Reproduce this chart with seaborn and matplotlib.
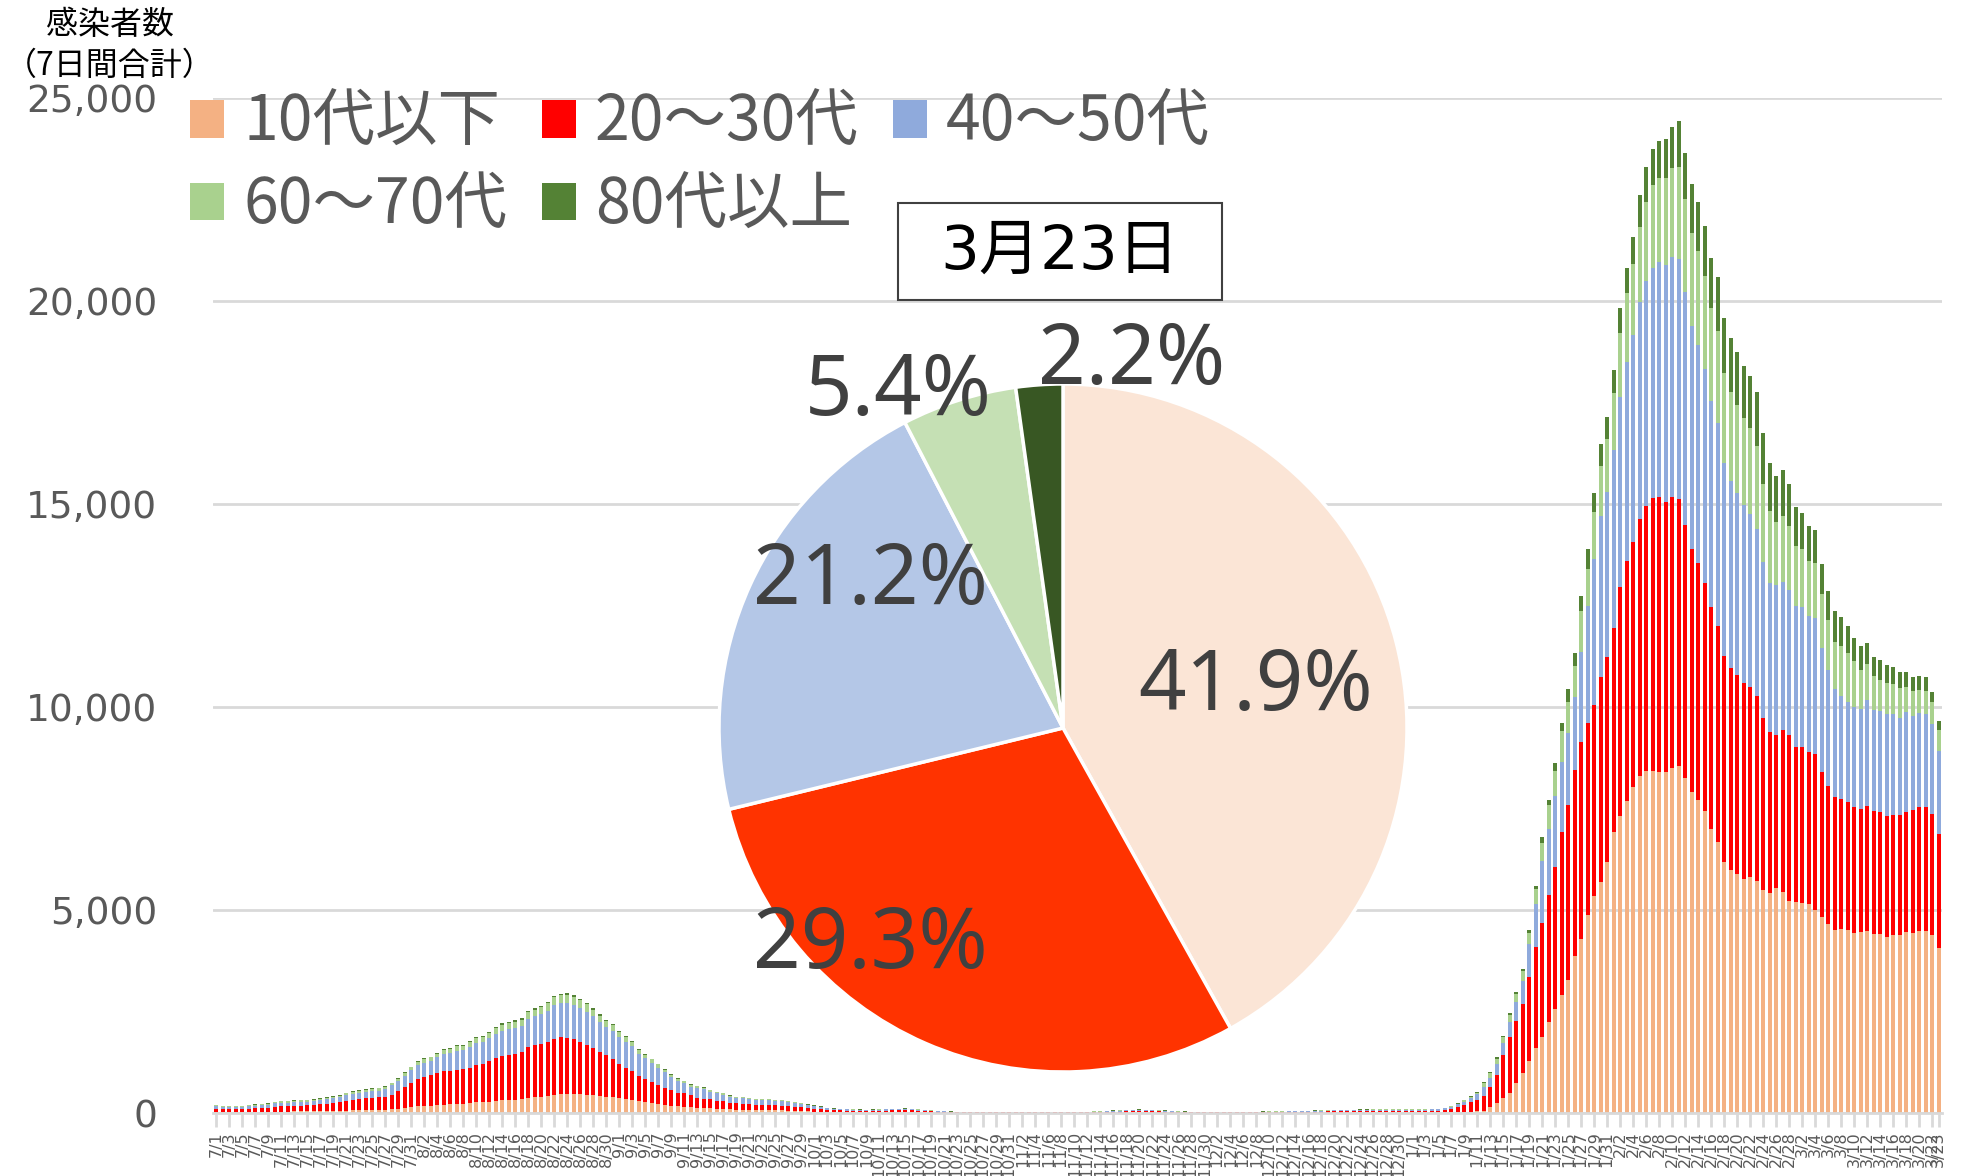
import numpy as np
import pandas as pd
import seaborn as sns
import matplotlib.pyplot as plt
from matplotlib.patches import Patch, Rectangle

# 7日間合計の感染者数 (2021/7/1 - 2022/3/23, daily)
dates = pd.date_range("2021-07-01", "2022-03-23", freq="D")

age_10 = [
    25, 22, 21, 22, 22, 24, 26, 27, 29, 33,
    35, 35, 37, 38, 38, 40, 43, 46, 50, 53,
    60, 63, 66, 70, 72, 75, 80, 92, 105, 125,
    142, 162, 172, 180, 195, 205, 215, 225, 232, 245,
    262, 265, 282, 300, 315, 322, 330, 340, 370, 385,
    400, 420, 450, 465, 470, 468, 460, 450, 435, 415,
    400, 385, 360, 340, 320, 290, 270, 250, 228, 205,
    182, 165, 155, 138, 130, 125, 115, 105, 99, 88,
    81, 80, 76, 71, 70, 70, 66, 64, 60, 52,
    46, 40, 34, 30, 24, 21, 19, 18, 17, 16,
    15, 16, 17, 18, 19, 20, 21, 20, 18, 15,
    12, 9, 8, 7, 5, 5, 5, 4, 4, 4,
    4, 4, 4, 4, 5, 5, 5, 4, 4, 4,
    4, 5, 5, 5, 5, 6, 7, 8, 9, 11,
    12, 13, 13, 13, 12, 11, 9, 8, 6, 6,
    5, 5, 5, 5, 5, 5, 5, 5, 5, 5,
    5, 6, 6, 6, 7, 7, 8, 8, 9, 9,
    10, 10, 11, 12, 12, 13, 13, 13, 14, 14,
    14, 14, 14, 15, 15, 15, 15, 16, 16, 14,
    15, 18, 24, 30, 38, 50, 146, 251, 365, 497,
    743, 981, 1271, 1597, 1878, 2230, 2564, 2916, 3277, 3857,
    4280, 4886, 5351, 5684, 6184, 6913, 7325, 7676, 8027, 8290,
    8421, 8421, 8404, 8404, 8509, 8553, 8246, 7895, 7702, 7430,
    6992, 6667, 6176, 5983, 5877, 5772, 5807, 5702, 5483, 5421,
    5544, 5439, 5220, 5202, 5176, 5150, 5000, 4825, 4649, 4518,
    4544, 4518, 4430, 4456, 4492, 4404, 4404, 4342, 4386, 4386,
    4456, 4430, 4474, 4474, 4386, 4053,
]
age_20_30 = [
    80, 74, 70, 74, 75, 82, 90, 95, 102, 122,
    130, 132, 140, 145, 147, 155, 168, 182, 200, 213,
    245, 262, 275, 290, 300, 308, 323, 352, 429, 516,
    597, 676, 715, 748, 791, 822, 828, 834, 852, 864,
    929, 942, 999, 1055, 1089, 1107, 1123, 1163, 1256, 1290,
    1300, 1337, 1381, 1399, 1386, 1347, 1281, 1225, 1175, 1096,
    1029, 945, 855, 777, 715, 613, 568, 514, 462, 419,
    377, 336, 330, 306, 248, 228, 222, 199, 189, 167,
    157, 150, 146, 135, 127, 127, 123, 117, 112, 102,
    95, 84, 76, 66, 53, 46, 43, 40, 37, 35,
    34, 36, 38, 41, 43, 45, 46, 44, 39, 33,
    26, 21, 17, 15, 12, 11, 10, 10, 10, 10,
    9, 9, 10, 10, 10, 11, 10, 10, 10, 10,
    10, 10, 11, 12, 13, 14, 16, 18, 22, 25,
    28, 30, 31, 30, 29, 26, 22, 17, 15, 13,
    12, 12, 11, 11, 10, 10, 11, 11, 12, 12,
    13, 13, 14, 15, 15, 16, 20, 22, 23, 25,
    26, 28, 30, 31, 33, 34, 35, 36, 37, 37,
    38, 38, 38, 39, 39, 40, 41, 42, 44, 69,
    94, 134, 178, 230, 290, 377, 501, 686, 1056, 1364,
    1514, 1698, 2085, 2489, 2800, 3150, 3500, 4000, 4300, 4600,
    4864, 4714, 4693, 5053, 5044, 5035, 5638, 5920, 6045, 6348,
    6529, 6735, 6776, 6637, 6655, 6570, 6236, 5996, 5836, 5632,
    5464, 5333, 5070, 4982, 4913, 4825, 4693, 4579, 4254, 3965,
    3772, 3991, 4096, 3825, 3851, 3745, 3842, 3570, 3404, 3263,
    3202, 3149, 3114, 3027, 3070, 3026, 3000, 2983, 2965, 2965,
    2957, 3026, 3053, 3070, 2983, 2807,
]
age_40_50 = [
    60, 55, 53, 55, 56, 60, 64, 66, 71, 82,
    87, 87, 90, 92, 92, 96, 102, 108, 116, 122,
    136, 142, 148, 155, 162, 168, 194, 243, 251, 281,
    311, 341, 352, 349, 381, 415, 430, 475, 465, 515,
    531, 531, 563, 593, 628, 633, 648, 642, 693, 704,
    732, 766, 828, 841, 856, 852, 850, 825, 769, 725,
    687, 687, 651, 629, 604, 555, 507, 468, 428, 374,
    318, 284, 248, 205, 234, 229, 192, 180, 166, 146,
    133, 141, 125, 119, 121, 121, 114, 113, 100, 88,
    79, 67, 57, 49, 40, 34, 32, 30, 26, 25,
    24, 25, 27, 29, 30, 31, 32, 31, 27, 23,
    18, 15, 12, 10, 10, 9, 9, 9, 8, 8,
    8, 8, 8, 9, 9, 9, 9, 9, 8, 8,
    9, 9, 10, 10, 11, 12, 13, 16, 19, 22,
    24, 26, 26, 26, 25, 22, 19, 15, 13, 11,
    11, 10, 10, 9, 9, 9, 9, 10, 10, 10,
    11, 11, 12, 13, 13, 14, 14, 15, 16, 17,
    19, 20, 21, 22, 23, 24, 25, 25, 26, 26,
    26, 27, 27, 27, 27, 28, 29, 29, 31, 31,
    42, 60, 80, 102, 130, 210, 220, 264, 308, 378,
    484, 572, 809, 1055, 1536, 1626, 1734, 1735, 1786, 1777,
    2216, 2900, 3601, 3975, 4075, 4382, 4680, 4909, 5090, 5345,
    5542, 5664, 5772, 5845, 5911, 5903, 5731, 5501, 5378, 5254,
    5080, 5003, 4771, 4609, 4489, 4378, 4253, 4103, 3842, 3660,
    3684, 3657, 3565, 3473, 3429, 3342, 3351, 3053, 2868, 2658,
    2535, 2465, 2456, 2467, 2614, 2500, 2509, 2500, 2474, 2386,
    2456, 2325, 2316, 2281, 2210, 2044,
]
age_60_70 = [
    22, 20, 19, 20, 20, 21, 23, 24, 26, 30,
    32, 32, 33, 33, 33, 34, 36, 37, 40, 41,
    45, 47, 49, 51, 53, 55, 50, 52, 58, 65,
    74, 83, 88, 90, 97, 102, 104, 108, 109, 115,
    122, 123, 130, 138, 144, 146, 148, 152, 164, 168,
    172, 178, 188, 191, 192, 188, 183, 177, 168, 158,
    149, 142, 132, 123, 116, 103, 95, 87, 79, 70,
    62, 56, 52, 46, 43, 41, 37, 34, 32, 28,
    26, 26, 25, 23, 22, 22, 21, 21, 22, 20,
    19, 16, 15, 13, 10, 9, 9, 8, 8, 8,
    8, 8, 9, 9, 10, 10, 10, 10, 9, 7,
    6, 5, 4, 3, 4, 4, 4, 4, 4, 4,
    4, 4, 4, 4, 4, 4, 4, 4, 4, 4,
    4, 4, 4, 5, 5, 5, 6, 7, 8, 9,
    11, 11, 12, 11, 11, 10, 8, 7, 5, 5,
    5, 4, 4, 4, 4, 4, 4, 4, 4, 5,
    5, 5, 5, 5, 6, 6, 5, 6, 7, 7,
    7, 8, 8, 9, 9, 9, 10, 10, 10, 10,
    10, 10, 11, 10, 11, 11, 11, 12, 12, 10,
    15, 20, 28, 36, 45, 90, 110, 132, 140, 176,
    193, 237, 273, 370, 440, 572, 616, 748, 766, 780,
    1012, 899, 1149, 1232, 1298, 1395, 1560, 1683, 1741, 1847,
    1954, 2037, 2069, 2135, 2192, 2282, 2290, 2290, 2315, 2299,
    2283, 2266, 2217, 2192, 2159, 2135, 2110, 2044, 1905, 1781,
    1565, 1617, 1585, 1473, 1435, 1367, 1345, 1335, 1228, 1158,
    1211, 1202, 1141, 971, 894, 842, 745, 772, 745, 719,
    614, 614, 578, 570, 553, 526,
]
age_80 = [
    10, 9, 9, 9, 9, 10, 10, 10, 10, 12,
    12, 12, 12, 12, 12, 12, 12, 13, 13, 14,
    15, 16, 17, 17, 18, 19, 10, 11, 13, 15,
    17, 19, 20, 21, 22, 24, 24, 25, 25, 26,
    28, 28, 30, 32, 33, 34, 34, 35, 38, 39,
    40, 41, 43, 44, 44, 43, 42, 41, 39, 36,
    34, 33, 30, 28, 27, 24, 22, 20, 18, 16,
    14, 13, 12, 11, 10, 9, 9, 8, 7, 7,
    6, 6, 6, 5, 5, 5, 5, 5, 5, 5,
    5, 4, 4, 4, 3, 3, 3, 3, 3, 3,
    3, 3, 3, 3, 4, 4, 4, 4, 3, 3,
    3, 2, 2, 2, 2, 2, 2, 2, 2, 2,
    2, 2, 2, 2, 2, 2, 2, 2, 2, 2,
    2, 2, 2, 2, 2, 2, 3, 3, 4, 5,
    5, 6, 6, 6, 5, 5, 4, 3, 3, 3,
    2, 2, 2, 2, 2, 2, 2, 2, 2, 2,
    2, 3, 3, 3, 3, 3, 3, 3, 3, 4,
    4, 4, 4, 4, 5, 5, 5, 6, 5, 6,
    6, 6, 6, 6, 6, 6, 6, 6, 7, 5,
    6, 8, 10, 12, 17, 34, 30, 44, 35, 44,
    44, 61, 62, 88, 150, 132, 219, 202, 308, 320,
    369, 484, 485, 533, 533, 575, 616, 616, 681, 780,
    862, 878, 927, 960, 1026, 1125, 1150, 1199, 1215, 1232,
    1248, 1313, 1339, 1330, 1297, 1297, 1297, 1322, 1256, 1190,
    1124, 1133, 1026, 961, 879, 854, 821, 731, 702, 772,
    728, 658, 570, 588, 509, 456, 500, 430, 413, 404,
    368, 351, 342, 333, 245, 219,
]

series_names = ["10代以下", "20～30代", "40～50代", "60～70代", "80代以上"]
bar_colors = ["#F4B183", "#FF0000", "#8FAADC", "#A9D18E", "#548235"]

# 3月23日の年代別割合
pie_share = [41.9, 29.3, 21.2, 5.4, 2.2]
pie_colors = ["#FBE5D6", "#FF3300", "#B4C7E7", "#C5E0B4", "#385723"]
pie_text_pos = [(0.56, 0.115), (-0.56, -0.635), (-0.56, 0.425), (-0.48, 0.975), (0.20, 1.065)]

for s in (age_10, age_20_30, age_40_50, age_60_70, age_80):
    assert len(s) == len(dates), len(s)

df = pd.DataFrame(dict(zip(series_names, [age_10, age_20_30, age_40_50, age_60_70, age_80])))
cum = df.cumsum(axis=1)
n = len(df)

sns.set_theme(style="white")
plt.rcParams["font.family"] = ["Noto Sans CJK JP", "DejaVu Sans"]

fig = plt.figure(figsize=(19.7, 11.76), dpi=100)
ax = fig.add_axes([213 / 1970, 1 - 1113 / 1176, 1729 / 1970, 1015 / 1176])

# stacked bars: draw cumulative tops from the top layer down
for name, color in reversed(list(zip(series_names, bar_colors))):
    sns.barplot(x=np.arange(n), y=cum[name].values, color=color, width=0.55,
                saturation=1, linewidth=0, errorbar=None, ax=ax)

ax.set_ylim(0, 25000)
ax.set_xlim(-0.5, n - 0.5)
ax.set_yticks(np.arange(0, 25001, 5000))
ax.set_yticklabels([f"{v:,}" for v in range(0, 25001, 5000)],
                   fontsize=27, color="#595959", family="DejaVu Sans")
ax.yaxis.grid(True, color="#D9D9D9", linewidth=2)
ax.set_axisbelow(True)
ax.tick_params(axis="y", length=0, pad=40)

tick_idx = list(range(0, n, 2)) + [n - 1]
ax.set_xticks(tick_idx)
ax.set_xticklabels([f"{dates[i].month}/{dates[i].day}" for i in tick_idx],
                   rotation=90, fontsize=11.5, color="#595959", family="DejaVu Sans")
ax.tick_params(axis="x", length=10, width=2, color="#D9D9D9", pad=3, bottom=True)
ax.set_xlabel("")
ax.set_ylabel("")
for side in ["top", "right", "left"]:
    ax.spines[side].set_visible(False)
ax.spines["bottom"].set_color("#D9D9D9")
ax.spines["bottom"].set_linewidth(2)

# axis caption
fig.text(110 / 1970, 1 - 25 / 1176, "感染者数", ha="center", va="center", fontsize=23, color="black")
fig.text(110 / 1970, 1 - 66 / 1176, "（7日間合計）", ha="center", va="center", fontsize=23, color="black")

# legend, row-major order over 3 columns
handles = [Patch(facecolor=c, edgecolor="none", label=l) for l, c in zip(series_names, bar_colors)]
order = [0, 3, 1, 4, 2]
fig.legend([handles[i] for i in order], [series_names[i] for i in order], ncol=3,
           loc="upper left", bbox_to_anchor=(190 / 1970, 1 - 91 / 1176), frameon=False,
           fontsize=45, labelcolor="#595959", handlelength=0.55, handleheight=0.55,
           handletextpad=0.3, columnspacing=0.55, labelspacing=0.3,
           borderpad=0, borderaxespad=0)

# pie inset
ax_pie = fig.add_axes([(1063 - 344) / 1970, 1 - (728 + 344) / 1176, 688 / 1970, 688 / 1176])
ax_pie.pie(pie_share, colors=pie_colors, startangle=90, counterclock=False,
           wedgeprops=dict(edgecolor="white", linewidth=2.5))
ax_pie.set_xlim(-1, 1)
ax_pie.set_ylim(-1, 1)
ax_pie.axis("off")
for v, (px, py) in zip(pie_share, pie_text_pos):
    ax_pie.text(px, py, f"{v}%", ha="center", va="center", fontsize=60,
                color="#404040", family=["Noto Sans"], clip_on=False)

# date box
fig.patches.append(Rectangle((898 / 1970, 1 - 300 / 1176), 324 / 1970, 97 / 1176,
                             transform=fig.transFigure, facecolor="white",
                             edgecolor="#404040", linewidth=1.5, zorder=3))
fig.text(1060 / 1970, 1 - 252 / 1176, "3月23日", ha="center", va="center",
         fontsize=44, color="black", family=["DejaVu Sans", "Noto Sans CJK JP"], zorder=4)

fig.savefig("out.png", dpi=100)
